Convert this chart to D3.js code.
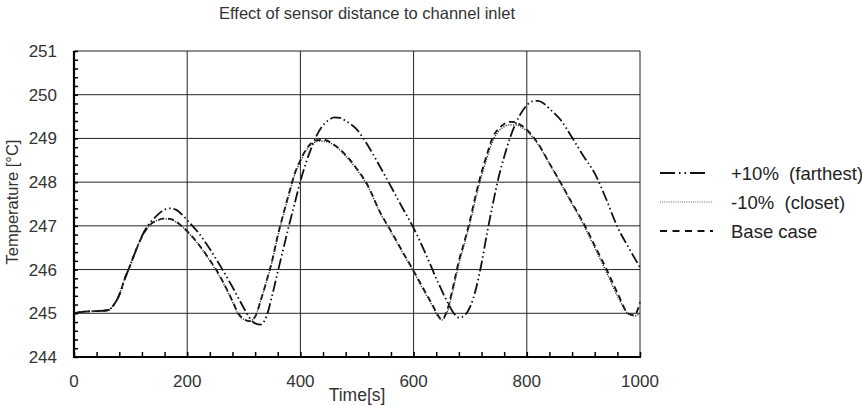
<!DOCTYPE html>
<html><head><meta charset="utf-8">
<script src="https://cdn.jsdelivr.net/npm/d3@7"></script>
<style>
html,body{margin:0;padding:0;background:#fff;}
svg{display:block;font-family:"Liberation Sans",Arial,sans-serif;}
</style></head>
<body><svg id="c" width="862" height="406"></svg>
<script>
const title = "Effect of sensor distance to channel inlet";
const xLabel = "Time[s]";
const yLabel = "Temperature [°C]";
const xTicks = [0, 200, 400, 600, 800, 1000];
const yTicks = [244, 245, 246, 247, 248, 249, 250, 251];
const seriesNames = ["+10%  (farthest)", "-10%  (closet)", "Base case"];

const baseT = [0,20,40,60,70,80,90,100,110,120,130,140,150,160,170,180,190,200,220,240,260,280,290,300,310,320,330,340,350,360,370,380,390,400,410,420,430,440,460,480,500,520,540,560,580,600,620,635,640,650,660,670,680,690,700,710,720,730,740,750,760,770,780,790,800,820,840,860,880,900,920,940,960,980,990,1000];
const baseV = [245.0,245.04,245.05,245.07,245.19,245.42,245.8,246.12,246.46,246.75,246.96,247.08,247.14,247.17,247.16,247.1,247.0,246.88,246.58,246.22,245.8,245.28,245.0,244.87,244.82,244.92,245.3,245.73,246.2,246.78,247.28,247.75,248.2,248.5,248.75,248.9,248.96,248.97,248.85,248.62,248.3,247.9,247.33,246.88,246.42,245.97,245.5,245.15,245.02,244.86,245.1,245.62,246.2,246.65,247.15,247.72,248.22,248.65,249.03,249.22,249.33,249.38,249.37,249.3,249.2,248.88,248.43,247.98,247.52,247.07,246.55,246.03,245.47,244.99,244.96,245.25];

const closeT = [0,20,40,60,70,80,90,100,110,120,130,140,150,160,170,180,190,200,220,240,260,280,290,300,310,320,330,340,350,360,370,380,390,400,410,420,430,440,460,480,500,520,540,560,580,600,620,635,640,650,660,670,680,690,700,710,720,730,740,750,760,770,780,790,800,820,840,860,880,900,920,940,960,980,990,1000];
const closeV = [245.0,245.04,245.05,245.07,245.19,245.42,245.8,246.12,246.46,246.75,246.96,247.08,247.14,247.16,247.15,247.09,246.99,246.87,246.57,246.2,245.78,245.26,244.98,244.86,244.82,244.93,245.3,245.72,246.18,246.75,247.25,247.72,248.17,248.47,248.72,248.87,248.93,248.94,248.84,248.6,248.28,247.88,247.32,246.86,246.4,245.95,245.47,245.12,244.99,244.85,245.05,245.55,246.12,246.6,247.08,247.64,248.14,248.57,248.95,249.16,249.27,249.31,249.31,249.26,249.17,248.86,248.42,247.97,247.5,247.03,246.5,245.96,245.4,244.98,244.94,245.0];

const farT = [0,20,40,60,70,80,90,100,110,120,130,140,150,160,170,180,190,200,220,240,260,280,300,310,320,330,340,350,360,370,380,390,400,410,420,430,440,450,460,470,480,500,520,540,560,580,600,620,640,660,670,680,690,700,710,720,730,740,750,760,770,780,790,800,810,820,830,840,860,880,900,920,940,960,980,1000];
const farV = [245.0,245.04,245.05,245.07,245.19,245.42,245.8,246.12,246.46,246.77,247.0,247.15,247.28,247.37,247.4,247.37,247.27,247.13,246.84,246.47,246.05,245.6,245.12,244.9,244.77,244.74,244.93,245.4,245.95,246.48,247.02,247.52,248.02,248.45,248.8,249.1,249.3,249.42,249.48,249.47,249.4,249.2,248.82,248.37,247.9,247.42,246.95,246.4,245.8,245.25,245.02,244.9,244.95,245.15,245.55,246.14,246.85,247.5,248.1,248.58,249.0,249.33,249.58,249.76,249.85,249.86,249.8,249.68,249.42,249.02,248.6,248.2,247.62,246.98,246.5,246.05];

const svg = d3.select("#c");
const M = {l:74, r:640, t:51, b:357};
const x = d3.scaleLinear().domain([0,1000]).range([M.l, M.r]);
const y = d3.scaleLinear().domain([244,251]).range([M.b, M.t]);
const txt = "#333";

svg.append("text").attr("x",367).attr("y",19).attr("text-anchor","middle")
  .attr("font-size",16.5).attr("fill",txt).text(title);

// grid
const g = svg.append("g");
g.selectAll(".hg").data(yTicks.filter(v=>v>244&&v<251)).join("line")
  .attr("x1",M.l).attr("x2",M.r).attr("y1",d=>y(d)).attr("y2",d=>y(d))
  .attr("stroke","#222").attr("stroke-width",1);
g.selectAll(".vg").data(xTicks.filter(v=>v>0&&v<1000)).join("line")
  .attr("y1",M.t).attr("y2",M.b).attr("x1",d=>x(d)).attr("x2",d=>x(d))
  .attr("stroke","#222").attr("stroke-width",1);
g.append("line").attr("x1",M.l).attr("x2",M.r).attr("y1",M.t).attr("y2",M.t).attr("stroke","#222");
g.append("line").attr("x1",M.r).attr("x2",M.r).attr("y1",M.t).attr("y2",M.b).attr("stroke","#222");

// axes with inward minor ticks
const yAx = d3.axisRight(y).tickValues(d3.range(0,36).map(i=>244+i*0.2)).tickSize(4).tickFormat("");
const ya = svg.append("g").attr("transform",`translate(${M.l},0)`).call(yAx);
ya.select(".domain").remove();
ya.selectAll("line").attr("stroke","#000").attr("stroke-width",1.5);
const xAx = d3.axisTop(x).tickValues(d3.range(0,26).map(i=>i*40)).tickSize(5).tickFormat("");
const xa = svg.append("g").attr("transform",`translate(0,${M.b})`).call(xAx);
xa.select(".domain").remove();
xa.selectAll("line").attr("stroke","#000").attr("stroke-width",1.5);
svg.append("line").attr("x1",M.l).attr("x2",M.l).attr("y1",M.t).attr("y2",M.b+1).attr("stroke","#000").attr("stroke-width",2.2);
svg.append("line").attr("x1",M.l-1).attr("x2",M.r+1).attr("y1",M.b).attr("y2",M.b).attr("stroke","#000").attr("stroke-width",2.2);

// tick labels
svg.selectAll(".yl").data(yTicks).join("text").attr("x",57).attr("y",d=>y(d)+6)
  .attr("text-anchor","end").attr("font-size",17).attr("fill",txt).text(d=>d);
svg.selectAll(".xl").data(xTicks).join("text").attr("x",d=>x(d)).attr("y",387)
  .attr("text-anchor","middle").attr("font-size",17).attr("fill",txt).text(d=>d);
svg.append("text").attr("x",357).attr("y",401).attr("text-anchor","middle")
  .attr("font-size",17.5).attr("fill",txt).text(xLabel);
svg.append("text").attr("transform","translate(18,202) rotate(-90)").attr("text-anchor","middle")
  .attr("font-size",16.5).attr("fill",txt).text(yLabel);

// lines
const line = d3.line().x(d=>x(d[0])).y(d=>y(d[1])).curve(d3.curveMonotoneX);
const styles = [
  {dash:"11,3,1.5,3,1.5,3", w:1.8, c:"#111"},
  {dash:"1.2,1.3", w:1.4, c:"#333"},
  {dash:"6,4", w:1.8, c:"#111"}
];
const data = [d3.zip(farT,farV), d3.zip(closeT,closeV), d3.zip(baseT,baseV)];
[2,1,0].forEach(i=>{
  svg.append("path").attr("d",line(data[i])).attr("fill","none")
    .attr("stroke",styles[i].c).attr("stroke-width",styles[i].w).attr("stroke-dasharray",styles[i].dash);
});

// legend
const rows = [173,202,231];
seriesNames.forEach((n,i)=>{
  svg.append("line").attr("x1",660).attr("x2",713).attr("y1",rows[i]).attr("y2",rows[i])
    .attr("stroke",i===1?"#666":"#111").attr("stroke-width",i===1?1:1.8)
    .attr("stroke-dasharray", i===0?"15,4,1.5,4,1.5,4,15":(i===1?"1,1.2":"7,5.5"));
  svg.append("text").attr("x",731).attr("y",rows[i]+6.5).attr("font-size",18.5).attr("fill","#222")
    .style("white-space","pre").text(n);
});
</script></body></html>
